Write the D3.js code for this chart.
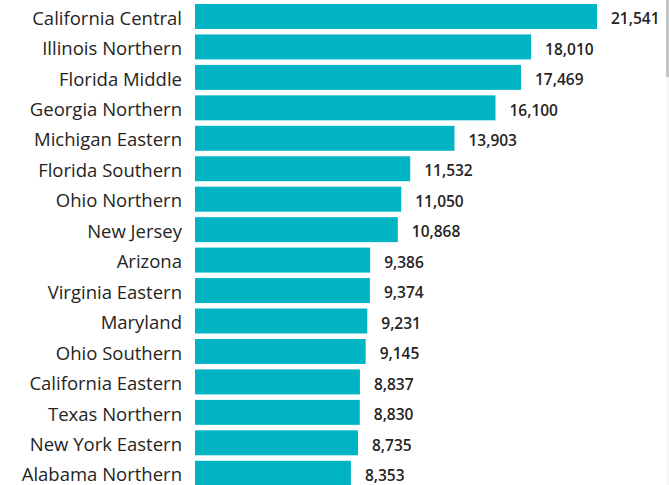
<!DOCTYPE html>
<html>
<head>
<meta charset="utf-8">
<script src="https://cdn.jsdelivr.net/npm/d3@7"></script>
<style>
  body { margin: 0; background: #fff; }
  svg { display: block; }
</style>
</head>
<body>
<div id="chart"></div>
<script>
var svgWidth = 669;
var svgHeight = 485;

// districts and case counts
var districts = ["California Central", "Illinois Northern", "Florida Middle", "Georgia Northern",
  "Michigan Eastern", "Florida Southern", "Ohio Northern", "New Jersey", "Arizona",
  "Virginia Eastern", "Maryland", "Ohio Southern", "California Eastern", "Texas Northern",
  "New York Eastern", "Alabama Northern"];
var counts = [21541, 18010, 17469, 16100, 13903, 11532, 11050, 10868, 9386,
  9374, 9231, 9145, 8837, 8830, 8735, 8353];

var data = districts.map(function(d, i) { return { name: d, value: counts[i] }; });

var svg = d3.select("#chart")
  .append("svg")
  .attr("width", svgWidth)
  .attr("height", svgHeight);

var barLeft = 195;

var xScale = d3.scaleLinear()
  .domain([0, d3.max(counts)])
  .range([barLeft, 597]);

var yScale = d3.scaleBand()
  .domain(districts)
  .range([4, 4 + 30.45 * 16 - 5.45])
  .paddingInner(0.18)
  .paddingOuter(0);

// category labels
var leftAxis = d3.axisLeft(yScale).tickSize(0).tickPadding(13);
var yAxis = svg.append("g")
  .attr("transform", `translate(${barLeft}, 0)`)
  .call(leftAxis);
yAxis.select(".domain").remove();
yAxis.selectAll("text")
  .attr("font-family", "'Open Sans', sans-serif")
  .attr("font-size", "18.5px")
  .attr("dy", "0.44em")
  .attr("fill", "#252423");

// bars
svg.selectAll("rect.bar")
  .data(data)
  .enter()
  .append("rect")
  .attr("class", "bar")
  .attr("x", xScale(0))
  .attr("y", d => yScale(d.name))
  .attr("width", d => xScale(d.value) - xScale(0))
  .attr("height", yScale.bandwidth())
  .attr("fill", "#01B4C4");

// value labels
var fmt = d3.format(",");
svg.selectAll("text.value")
  .data(data)
  .enter()
  .append("text")
  .attr("class", "value")
  .attr("x", d => xScale(d.value) + 14)
  .attr("y", d => yScale(d.name) + yScale.bandwidth() / 2)
  .attr("dy", "0.5em")
  .attr("font-family", "'Open Sans', sans-serif")
  .attr("font-weight", 600)
  .attr("font-size", "15.5px")
  .attr("fill", "#252423")
  .text(d => fmt(d.value));

// scrollbar at right edge
svg.append("rect")
  .attr("x", 666).attr("y", 0)
  .attr("width", 3).attr("height", svgHeight)
  .attr("fill", "#f7f7f7");
svg.append("rect")
  .attr("x", 666).attr("y", 0)
  .attr("width", 3).attr("height", 77)
  .attr("fill", "#c4c4c4");
</script>
</body>
</html>
